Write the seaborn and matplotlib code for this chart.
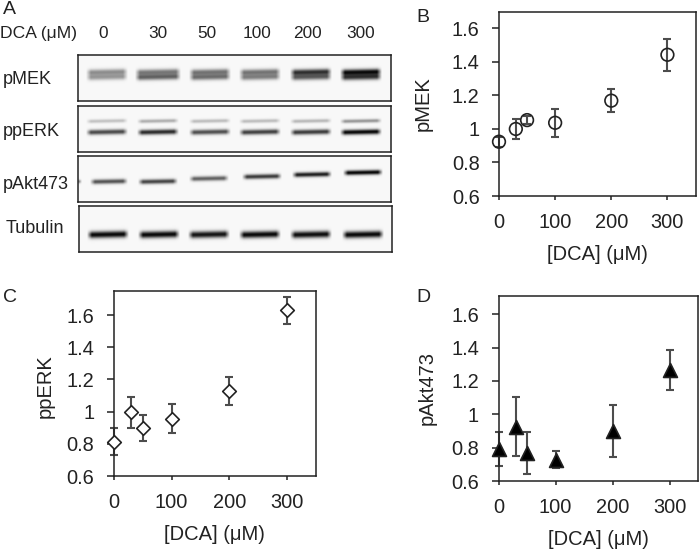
import numpy as np
import matplotlib
matplotlib.use("Agg")
import matplotlib.pyplot as plt
import seaborn as sns

W, H = 700, 549

dca = [0, 30, 50, 100, 200, 300]
x_ticks = [0, 100, 200, 300]
y_ticks = [0.6, 0.8, 1.0, 1.2, 1.4, 1.6]
y_tick_labels = ["0.6", "0.8", "1", "1.2", "1.4", "1.6"]

pmek = [0.924, 1.0, 1.053, 1.037, 1.169, 1.443]
pmek_err = [0.03, 0.058, 0.022, 0.085, 0.07, 0.096]
pperk = [0.813, 0.995, 0.90, 0.956, 1.13, 1.63]
pperk_err = [0.083, 0.095, 0.08, 0.09, 0.088, 0.085]
pakt = [0.793, 0.927, 0.767, 0.73, 0.90, 1.265]
pakt_err = [0.10, 0.175, 0.125, 0.05, 0.157, 0.12]

dose_labels = ["0", "30", "50", "100", "200", "300"]

# blot lanes: centre, half width and row in pixels of the blot box, darkness 0-1
mek_lanes = [29, 80, 132, 182, 233, 283]
mek_width = [21, 23, 21, 21, 21, 21]
mek_upper = [0.42, 0.50, 0.52, 0.52, 0.80, 0.95]
mek_lower = [0.38, 0.60, 0.55, 0.48, 0.62, 0.78]
erk_lanes = [29, 80, 132, 182, 233, 283]
erk_width = [21, 21, 21, 21, 21, 21]
erk_upper = [0.22, 0.30, 0.24, 0.24, 0.26, 0.40]
erk_lower = [0.72, 0.85, 0.70, 0.76, 0.78, 1.0]
akt_lanes = [31, 80, 131, 184, 234, 285]
akt_width = [19, 20, 20, 20, 20, 20]
akt_band = [0.68, 0.74, 0.62, 0.78, 0.90, 1.0]
akt_rows = [25, 25, 22, 20, 18, 16]
tub_lanes = [29, 80, 130, 181, 232, 284]
tub_width = [21, 21, 21, 21, 21, 21]
tub_band = [1.0, 1.0, 0.95, 1.0, 0.98, 1.0]

blot_names = ["pMEK", "ppERK", "pAkt473", "Tubulin"]

sns.set_theme(style="ticks")
plt.rcParams["font.family"] = ["Liberation Sans", "DejaVu Sans"]
text_col = "#222222"

fig = plt.figure(figsize=(7.0, 5.49), dpi=100)


def box(left, top, right, bottom):
    return fig.add_axes([left / W, 1 - bottom / H, (right - left) / W, (bottom - top) / H])


def bands(img, lanes, widths, rows, darks, thick):
    yy, xx = np.mgrid[0:img.shape[0], 0:img.shape[1]]
    xx = xx / 2
    yy = yy / 2
    for c, w, r, d in zip(lanes, widths, rows, darks):
        across = np.clip((w - np.abs(xx - c)) / 5, 0, 1)
        tilt = r - (xx - c) * 0.02
        img += d * across * np.exp(-((yy - tilt) / thick) ** 2)


def blot(left, top, right, bottom, draw):
    ax = box(left, top, right, bottom)
    img = np.zeros((int(bottom - top) * 2, int(right - left) * 2))
    draw(img)
    sns.heatmap(0.97 - np.clip(img, 0, 1) * 0.93, ax=ax, cmap="gray", vmin=0, vmax=1.0, cbar=False,
                xticklabels=False, yticklabels=False, rasterized=True)
    ax.tick_params(length=0)
    for s in ax.spines.values():
        s.set_visible(True)
        s.set_color("#222222")
        s.set_linewidth(1.1)
    return ax


def draw_mek(img):
    bands(img, mek_lanes, mek_width, [16.5] * 6, mek_upper, 3.0)
    bands(img, mek_lanes, mek_width, [21.5] * 6, mek_lower, 3.0)


def draw_erk(img):
    bands(img, erk_lanes, erk_width, [15] * 6, erk_upper, 1.9)
    bands(img, erk_lanes, erk_width, [26] * 6, erk_lower, 2.6)


def draw_akt(img):
    bands(img, akt_lanes, akt_width, akt_rows, akt_band, 2.4)
    bands(img, [1], [3], [25], [0.8], 1.8)


def draw_tub(img):
    bands(img, tub_lanes, tub_width, [28] * 6, tub_band, 3.4)


blot(77.5, 55, 391, 100.5, draw_mek)
blot(77.5, 105.5, 391, 151.5, draw_erk)
blot(77.5, 156, 391, 202, draw_akt)
blot(78.5, 206, 392, 252, draw_tub)

# panel A text
fig.text(0 / W, 1 - 33.5 / H, "DCA (\u03bcM)", fontsize=12.6, color=text_col, va="center", ha="left")
for lab, px in zip(dose_labels, [103, 158, 207, 257, 307, 361]):
    fig.text(px / W, 1 - 33.5 / H, lab, fontsize=12.4, color=text_col, va="center", ha="center")
for lab, px, py in zip(blot_names, [3, 3, 3, 6], [80, 132, 184, 229]):
    fig.text(px / W, 1 - py / H, lab, fontsize=13, color=text_col, va="center", ha="left")

for lab, px, py in zip(["A", "B", "C", "D"], [3, 416, 3, 416], [10, 17, 297, 298]):
    fig.text(px / W, 1 - py / H, lab, fontsize=14, color=text_col, va="center", ha="left")


def panel(pos, y, err, ylabel, ytop, marker, face, ms, label_x, label_y):
    ax = box(*pos)
    ax.errorbar(dca, y, yerr=err, fmt="none", ecolor="#4d4d4d", elinewidth=1.5, capsize=3,
                capthick=1.5, clip_on=False, zorder=2)
    sns.scatterplot(x=dca, y=y, ax=ax, marker=marker, s=ms, color=face, edgecolor="#222222",
                    linewidth=1.2, clip_on=False, zorder=3)
    ax.set_xlim(0, 350)
    ax.set_ylim(0.6, ytop)
    ax.set_xticks(x_ticks)
    ax.set_yticks(y_ticks)
    ax.set_yticklabels(y_tick_labels)
    ax.tick_params(labelsize=14.4, colors=text_col, width=1.1)
    ax.tick_params(axis="x", length=3, pad=9)
    ax.tick_params(axis="y", length=5, pad=9)
    ax.set_xlabel("[DCA] (\u03bcM)", fontsize=14.5, color=text_col)
    ax.set_ylabel(ylabel, fontsize=14.5, color=text_col)
    ax.xaxis.set_label_coords(0.5, -0.265)
    ax.yaxis.set_label_coords(label_x, label_y)
    for s in ax.spines.values():
        s.set_color("#222222")
        s.set_linewidth(1.1)
    return ax


panel((499, 11.7, 695.5, 196), pmek, pmek_err, "pMEK", 1.70, "o", "none", 83, -0.337, 0.5)
panel((113.7, 291, 316, 476), pperk, pperk_err, "ppERK", 1.75, "D", "white", 48, -0.29, 0.488)
panel((498.5, 295.7, 698, 481.3), pakt, pakt_err, "pAkt473", 1.71, "^", "black", 100, -0.308, 0.503)

fig.savefig("out.png", dpi=100)
